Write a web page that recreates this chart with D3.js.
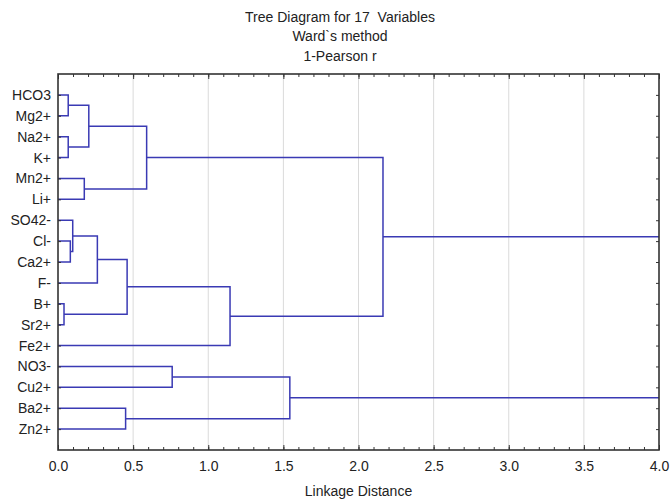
<!DOCTYPE html>
<html lang="en">
  <head>
    <meta charset="utf-8">
    <title>Tree Diagram</title>
    <style>
      body { margin: 0; background: #fff; }
      text { font-family: "Liberation Sans", Arial, sans-serif; fill: #222; white-space: pre; }
    </style>
  </head>
  <body>
    <script src="https://cdn.jsdelivr.net/npm/d3@7"></script>
    <script>
    // leaves, top to bottom
    const labels = ["HCO3", "Mg2+", "Na2+", "K+", "Mn2+", "Li+", "SO42-", "Cl-", "Ca2+",
                    "F-", "B+", "Sr2+", "Fe2+", "NO3-", "Cu2+", "Ba2+", "Zn2+"]

    // linkage: node 17 + i joins mergeA[i] and mergeB[i] at mergeDist[i]
    const mergeA    = [0, 2, 17, 4, 19, 7, 6, 23, 10, 24, 26, 21, 13, 15, 29, 28]
    const mergeB    = [1, 3, 18, 5, 20, 8, 22, 9, 11, 25, 12, 27, 14, 16, 30, 31]
    const mergeDist = [0.068, 0.068, 0.205, 0.175, 0.59, 0.082, 0.098, 0.262, 0.04,
                       0.46, 1.145, 2.163, 0.76, 0.45, 1.543, 4.3]

    const xTicks = [0, 0.5, 1, 1.5, 2, 2.5, 3, 3.5, 4]
    const titleLines = ["Tree Diagram for 17  Variables", "Ward`s method", "1-Pearson r"]

    const w = 671
    const h = 500
    const pl = 58, pr = 659, pt = 74, pb = 450   // plot frame
    const fs = 14

    const svg = d3.select("body").append("svg")
      .attr("width", w)
      .attr("height", h)

    const x = d3.scaleLinear().domain([0, 4]).range([pl, pr])
    const y = d3.scalePoint().domain(labels).range([pt, pb]).padding(1)

    // grid
    svg.append("g")
      .selectAll("line")
      .data(xTicks.slice(1, -1))
      .join("line")
      .attr("x1", d => x(d)).attr("x2", d => x(d))
      .attr("y1", pt).attr("y2", pb)
      .attr("stroke", "#dadada")
      .attr("stroke-width", 1)

    // node positions
    const nodeY = labels.map(l => y(l))
    const nodeD = labels.map(() => 0)
    mergeA.forEach((a, i) => {
      nodeY.push((nodeY[a] + nodeY[mergeB[i]]) / 2)
      nodeD.push(mergeDist[i])
    })

    svg.append("clipPath").attr("id", "plot")
      .append("rect")
      .attr("x", pl).attr("y", pt)
      .attr("width", pr - pl).attr("height", pb - pt)

    svg.append("g")
      .attr("clip-path", "url(#plot)")
      .selectAll("path")
      .data(mergeA.map((a, i) => ({a: a, b: mergeB[i], d: mergeDist[i]})))
      .join("path")
      .attr("d", m => {
        const p = d3.path()
        p.moveTo(x(nodeD[m.a]), nodeY[m.a])
        p.lineTo(x(m.d), nodeY[m.a])
        p.lineTo(x(m.d), nodeY[m.b])
        p.lineTo(x(nodeD[m.b]), nodeY[m.b])
        return p.toString()
      })
      .attr("fill", "none")
      .attr("stroke", "#3a3ab4")
      .attr("stroke-width", 1.5)

    // axes, ticks pointing inward
    const minor = d3.range(0, 40.5, 1).map(d => d / 10)

    const bottomMinor = svg.append("g")
      .attr("transform", `translate(0, ${pb})`)
      .call(d3.axisBottom(x).tickValues(minor).tickSize(-3).tickFormat(""))
    const bottomAxis = svg.append("g")
      .attr("transform", `translate(0, ${pb})`)
      .call(d3.axisBottom(x).tickValues(xTicks).tickSize(-5).tickPadding(11)
        .tickFormat(d3.format(".1f")))
    const topMinor = svg.append("g")
      .attr("transform", `translate(0, ${pt})`)
      .call(d3.axisTop(x).tickValues(minor).tickSize(-3).tickFormat(""))
    const topAxis = svg.append("g")
      .attr("transform", `translate(0, ${pt})`)
      .call(d3.axisTop(x).tickValues(xTicks).tickSize(-5).tickFormat(""))
    const leftAxis = svg.append("g")
      .attr("transform", `translate(${pl}, 0)`)
      .call(d3.axisLeft(y).tickSize(-3).tickPadding(7))
    const rightAxis = svg.append("g")
      .attr("transform", `translate(${pr}, 0)`)
      .call(d3.axisRight(y).tickSize(-3).tickFormat(""))

    ;[bottomMinor, bottomAxis, topMinor, topAxis, leftAxis, rightAxis].forEach(g => {
      g.select(".domain").remove()
      g.selectAll(".tick line").attr("stroke", "#333").attr("stroke-width", 1)
      g.selectAll("text").attr("font-size", fs).attr("fill", "#222")
        .attr("font-family", "Liberation Sans, Arial, sans-serif")
    })

    // frame
    svg.append("rect")
      .attr("x", pl).attr("y", pt)
      .attr("width", pr - pl).attr("height", pb - pt)
      .attr("fill", "none")
      .attr("stroke", "#333")
      .attr("stroke-width", 1.6)

    // titles
    svg.append("g")
      .selectAll("text")
      .data(titleLines)
      .join("text")
      .attr("x", 340)
      .attr("y", (d, i) => 22 + i * 19.3)
      .attr("text-anchor", "middle")
      .attr("font-size", fs)
      .text(d => d)

    svg.append("text")
      .attr("x", (pl + pr) / 2)
      .attr("y", 496)
      .attr("text-anchor", "middle")
      .attr("font-size", fs)
      .text("Linkage Distance")
    </script>
  </body>
</html>
